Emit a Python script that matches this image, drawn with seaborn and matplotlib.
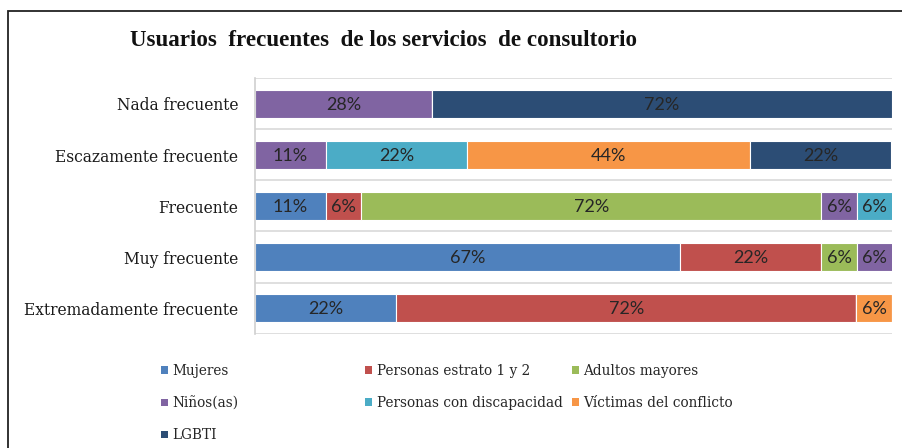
import matplotlib
matplotlib.use("Agg")
import matplotlib.pyplot as plt
import seaborn as sns
import numpy as np
import pandas as pd
from matplotlib.patches import Rectangle, Patch

categories = ["Nada frecuente", "Escazamente frecuente", "Frecuente",
              "Muy frecuente", "Extremadamente frecuente"]
series = ["Mujeres", "Personas estrato 1 y 2", "Adultos mayores", "Niños(as)",
          "Personas con discapacidad", "Víctimas del conflicto", "LGBTI"]
mujeres = [0, 0, 11.1, 66.7, 22.2]
estrato = [0, 0, 5.6, 22.2, 72.2]
adultos = [0, 0, 72.2, 5.6, 0]
ninos = [27.8, 11.1, 5.6, 5.6, 0]
discapacidad = [0, 22.2, 5.6, 0, 0]
victimas = [0, 44.4, 0, 0, 5.6]
lgbti = [72.2, 22.2, 0, 0, 0]
values = [mujeres, estrato, adultos, ninos, discapacidad, victimas, lgbti]
colors = ["#4F81BD", "#C0504D", "#9BBB59", "#8064A2", "#4BACC6", "#F79646", "#2C4D75"]

sns.set_style("white")
W, H = 902, 448
fig = plt.figure(figsize=(W / 100, H / 100), dpi=100)
ax = fig.add_axes([255 / W, 1 - 333.5 / H, (892 - 255) / W, (333.5 - 78.5) / H])

serif = ["DejaVu Serif"]
title_font = ["Liberation Serif", "DejaVu Serif"]
lblfont = ["Lato", "DejaVu Sans"]

left = np.zeros(len(categories))
for name, vals, col in zip(series, values, colors):
    df = pd.DataFrame({"cat": categories, "val": vals})
    sns.barplot(data=df, x="val", y="cat", order=categories, orient="h",
                color=col, saturation=1, left=left.copy(), width=0.55,
                edgecolor="white", linewidth=0.8, errorbar=None, ax=ax)
    for i, v in enumerate(vals):
        if v > 0:
            ax.text(left[i] + v / 2, i + 0.02, f"{v:.0f}%", ha="center", va="center",
                    fontsize=13, color="#262626", family=lblfont)
    left += np.array(vals)

ax.set_xlim(0, 100)
ax.set_ylim(4.5, -0.5)
ax.set_xlabel("")
ax.set_ylabel("")
ax.set_xticks([])
ax.set_yticks(np.arange(-0.5, 5, 1), minor=True)
ax.grid(which="minor", axis="y", color="#D9D9D9", lw=1.2)
ax.grid(which="major", visible=False)
ax.set_axisbelow(True)
ax.tick_params(axis="y", which="both", length=0, pad=12)
for lab in ax.get_yticklabels():
    lab.set_family(serif)
    lab.set_fontsize(11.2)
    lab.set_color("#1a1a1a")
for s in ["top", "right", "bottom"]:
    ax.spines[s].set_visible(False)
ax.spines["left"].set_color("#D0D0D0")
ax.spines["left"].set_linewidth(1.2)

fig.text(130 / W, 1 - 40 / H, "Usuarios  frecuentes  de los servicios  de consultorio",
         ha="left", va="center", fontsize=16.6, fontweight="bold", family=title_font,
         color="#111111")

# legend as three fixed-width columns
cols = [([0, 3, 6], 161), ([1, 4], 365), ([2, 5], 572)]
for idxs, x in cols:
    handles = [Patch(facecolor=colors[k], edgecolor="none") for k in idxs]
    labels = [series[k] for k in idxs]
    fig.legend(handles, labels, loc="upper left", bbox_to_anchor=(x / W, 1 - 364 / H),
               frameon=False, handlelength=0.5, handleheight=0.5, handletextpad=0.35,
               labelspacing=1.33, borderaxespad=0, borderpad=0,
               prop={"family": serif, "size": 9.8})

fig.add_artist(Rectangle((8 / W, -0.2), 1.2, 0.2 + (1 - 11 / H), transform=fig.transFigure,
                         fill=False, edgecolor="#222222", lw=1.3))

fig.savefig("out.png", dpi=100)
